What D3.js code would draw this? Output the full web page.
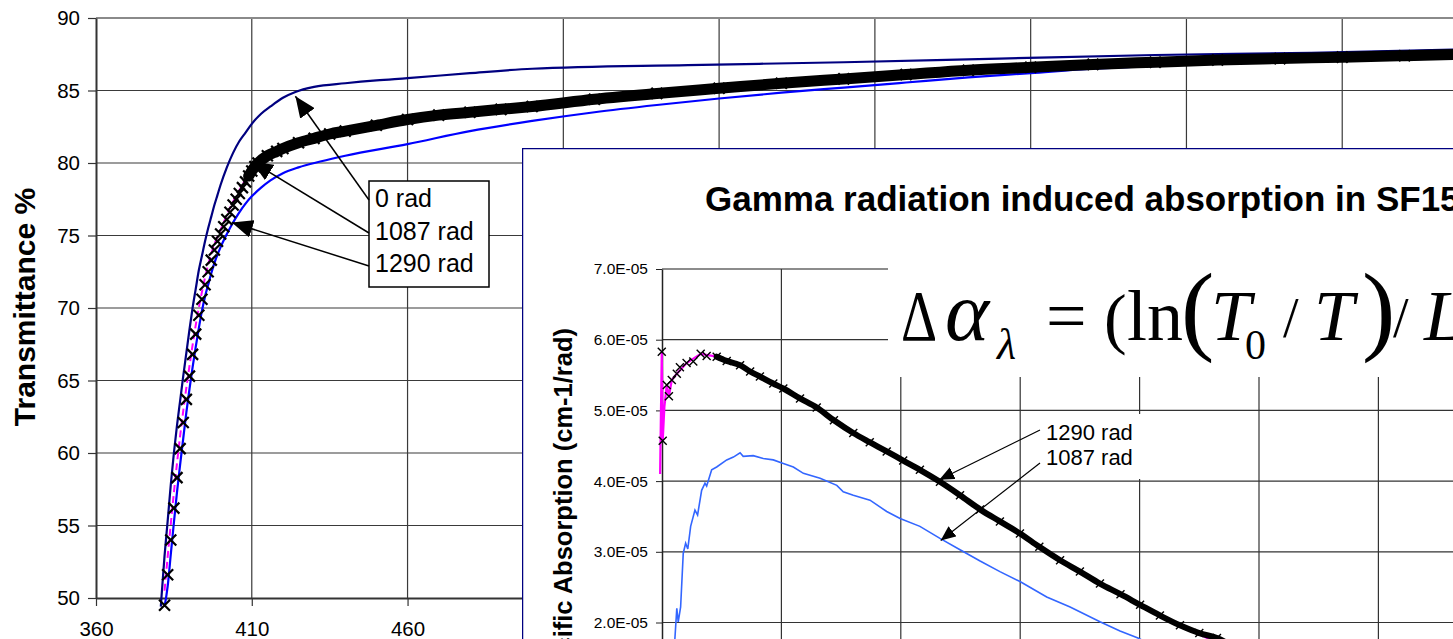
<!DOCTYPE html>
<html>
<head>
<meta charset="utf-8">
<script src="https://cdn.jsdelivr.net/npm/d3@7"></script>
<style>
  body { margin: 0; background: #fff; }
  svg { display: block; }
</style>
</head>
<body>
<svg id="chart" width="1453" height="639"></svg>
<script>
// ---- main chart: transmittance vs wavelength (nm) ----
const mainXTicks = [360, 410, 460, 510, 560, 610, 660, 710, 760, 810];
const mainYTicks = [50, 55, 60, 65, 70, 75, 80, 85, 90];

// 0 rad
const wl0 = [380.8, 381, 382, 383, 384, 385, 386, 387, 388, 389, 390, 391, 392, 393, 394, 395, 396, 397, 398, 399, 400,
  402, 404, 406, 408, 410, 413, 416, 420, 424, 430, 440, 450, 460, 480, 500, 550, 600, 650, 700, 750, 800, 810];
const t0 = [49.4, 50.0, 52.9, 55.3, 57.8, 60.0, 61.9, 63.6, 65.3, 66.9, 68.5, 70.0, 71.3, 72.6, 73.6, 74.6, 75.5, 76.3, 77.1, 77.8, 78.5,
  79.7, 80.7, 81.5, 82.1, 82.7, 83.4, 83.9, 84.5, 84.9, 85.25, 85.5, 85.7, 85.85, 86.2, 86.5, 86.75, 86.95, 87.2, 87.45, 87.6, 87.85, 87.9];

// 1087 rad (x markers)
const wl1087 = [382, 383, 384, 385, 386, 387, 388, 389, 390, 391, 392, 393, 394, 395, 396, 397, 398, 399, 400, 401,
  402, 403, 404, 405, 406, 407, 408, 409, 410, 411, 412,
  415, 418, 420, 425, 430, 435, 440, 450, 460, 470, 480, 490, 500, 520, 540, 560, 580, 600, 620, 640, 660, 680, 700,
  720, 740, 760, 780, 800, 810];
const t1087 = [49.5, 51.6, 54.0, 56.2, 58.3, 60.3, 62.1, 63.7, 65.3, 66.8, 68.2, 69.5, 70.6, 71.6, 72.5, 73.3, 74.0, 74.6, 75.1, 75.6,
  76.1, 76.6, 77.1, 77.5, 77.9, 78.3, 78.7, 79.1, 79.45, 79.75, 80.0,
  80.5, 80.8, 81.0, 81.4, 81.7, 82.0, 82.2, 82.6, 83.0, 83.3, 83.5, 83.7, 83.9, 84.4, 84.8, 85.15, 85.5, 85.8, 86.1, 86.4, 86.6, 86.8, 86.95,
  87.1, 87.2, 87.3, 87.4, 87.5, 87.55];

// 1290 rad
const wl1290 = [382, 383, 384, 385, 386, 387, 388, 389, 390, 391, 392, 393, 394, 395, 396, 397, 398,
  400, 402, 404, 406, 408, 410, 413, 416, 420, 425, 432, 440,
  460, 480, 500, 520, 540, 560, 580, 600, 620, 640, 660, 680, 700, 720, 740, 760, 780, 800, 810];
const t1290 = [49.4, 50.8, 53.0, 55.2, 57.3, 59.2, 61.0, 62.8, 64.4, 65.9, 67.3, 68.6, 69.8, 70.8, 71.6, 72.4, 73.1,
  74.2, 75.1, 75.9, 76.6, 77.2, 77.7, 78.3, 78.8, 79.3, 79.7, 80.1, 80.5,
  81.3, 82.2, 82.9, 83.5, 84.0, 84.45, 84.85, 85.2, 85.55, 85.9, 86.2, 86.5, 86.7, 86.85, 86.95, 87.05, 87.15, 87.25, 87.3];

// dashed magenta series
const wlFit = [382, 384, 386, 388, 390, 392, 394, 396, 398, 400, 403, 406, 410, 415, 420, 430, 450, 500, 600, 700, 800];
const tFit = [50.5, 55.1, 59.3, 62.9, 66.0, 68.8, 71.1, 73.0, 74.4, 75.4, 76.9, 78.1, 79.6, 80.6, 81.1, 81.75, 82.65, 83.95, 85.85, 87.0, 87.55];

const mainLabels = ["0 rad", "1087 rad", "1290 rad"];
const mainArrowTips = [[424, 84.6], [410, 80.1], [403.6, 75.9]];

// ---- inset: specific absorption ----
const insetXTicks = [380, 430, 480, 530, 580, 630, 680, 730];
const insetYTicks = [1e-5, 2e-5, 3e-5, 4e-5, 5e-5, 6e-5, 7e-5];
const insetYLabels = ["1.0E-05", "2.0E-05", "3.0E-05", "4.0E-05", "5.0E-05", "6.0E-05", "7.0E-05"];

const insetWl1087 = [384.5, 385.4, 386.2, 386.8, 387.8, 388.9, 389.9, 390.8, 392.0, 393.8, 394.9, 396.6, 398.0, 398.7, 400.8,
  402.9, 407.1, 409.9, 412.7, 414.0, 418.2, 422.4, 426.6, 430.8, 435.0, 439.2, 446.2, 453.2, 455.9, 460.1,
  467.1, 474.1, 479.7, 488.0, 496.4, 504.8, 513.2, 521.5, 529.9, 541.1, 550.9, 563.4, 571.8, 579.3, 590.0];
const insetAbs1087 = [1.30e-5, 1.77e-5, 2.20e-5, 2.01e-5, 2.22e-5, 2.98e-5, 3.12e-5, 3.04e-5, 3.36e-5, 3.59e-5, 3.52e-5, 3.87e-5, 3.97e-5, 3.93e-5, 4.16e-5,
  4.20e-5, 4.30e-5, 4.34e-5, 4.40e-5, 4.35e-5, 4.36e-5, 4.32e-5, 4.30e-5, 4.25e-5, 4.20e-5, 4.11e-5, 4.04e-5, 3.94e-5, 3.85e-5, 3.80e-5,
  3.73e-5, 3.57e-5, 3.47e-5, 3.36e-5, 3.19e-5, 3.03e-5, 2.87e-5, 2.72e-5, 2.58e-5, 2.36e-5, 2.22e-5, 2.01e-5, 1.88e-5, 1.78e-5, 1.60e-5];

const insetWl1290 = [379.9, 380.3, 382.0, 382.9, 384.1, 386.2, 387.5, 390.3, 393.1, 396.2, 398.7, 402.9, 407.1, 412.7, 416.9,
  421.0, 426.6, 430.8, 437.8, 444.8, 452.0, 460.1, 467.0, 474.1, 481.0, 488.0, 496.4, 504.8, 513.2, 521.5,
  529.9, 538.0, 546.7, 555.0, 563.4, 572.0, 580.2, 588.5, 596.9, 605.0, 612.4, 626.0];
const insetAbs1290 = [5.83e-5, 4.57e-5, 5.36e-5, 5.20e-5, 5.43e-5, 5.52e-5, 5.61e-5, 5.67e-5, 5.69e-5, 5.80e-5, 5.77e-5, 5.76e-5, 5.70e-5, 5.64e-5, 5.55e-5,
  5.48e-5, 5.38e-5, 5.31e-5, 5.17e-5, 5.04e-5, 4.86e-5, 4.68e-5, 4.55e-5, 4.42e-5, 4.29e-5, 4.16e-5, 3.99e-5, 3.80e-5, 3.60e-5, 3.43e-5,
  3.26e-5, 3.07e-5, 2.88e-5, 2.72e-5, 2.55e-5, 2.40e-5, 2.25e-5, 2.10e-5, 1.96e-5, 1.85e-5, 1.78e-5, 1.50e-5];

const insetWlFit = [379.2, 379.9, 380.3, 381.0, 382.0, 382.9, 384.1, 386.2, 390.3, 396.2, 402.9, 412.7, 426.6, 444.8, 460.1,
  481.0, 504.8, 529.9, 563.4, 596.9, 626.0];
const insetAbsFit = [4.10e-5, 5.83e-5, 4.57e-5, 5.05e-5, 5.36e-5, 5.20e-5, 5.43e-5, 5.52e-5, 5.67e-5, 5.80e-5, 5.76e-5, 5.64e-5, 5.38e-5, 5.04e-5, 4.68e-5,
  4.29e-5, 3.80e-5, 3.26e-5, 2.55e-5, 1.96e-5, 1.50e-5];

const insetLabels = ["1290 rad", "1087 rad"];
const insetArrowTips = [[496.1, 4.02e-5], [496.7, 3.16e-5]];

const SANS = "Arial, 'Liberation Sans', sans-serif";
const SERIF = "'Times New Roman', 'Liberation Serif', serif";

const zip = (a, b) => a.map((v, i) => [v, b[i]]);

const svg = d3.select("#chart");
const defs = svg.append("defs");

function arrowMarker(id, len, half) {
    defs.append("marker").attr("id", id)
        .attr("viewBox", `${-len} ${-half} ${len} ${2 * half}`)
        .attr("refX", 0).attr("refY", 0)
        .attr("markerWidth", len).attr("markerHeight", 2 * half)
        .attr("markerUnits", "userSpaceOnUse")
        .attr("orient", "auto")
        .append("path")
        .attr("d", `M0,0L${-len},${-half}L${-len},${half}Z`)
        .attr("fill", "#000");
}
arrowMarker("bigArrow", 21, 9);
arrowMarker("smallArrow", 15, 6.5);

// draws an "x" marker at every data point
function crosses(g, data, sx, sy, s, sw) {
    g.append("g").selectAll("path").data(data).join("path")
        .attr("d", d => {
            const px = sx(d[0]), py = sy(d[1]);
            return `M${px - s},${py - s}L${px + s},${py + s}M${px - s},${py + s}L${px + s},${py - s}`;
        })
        .attr("stroke", "#000").attr("stroke-width", sw).attr("fill", "none");
}

// ================= main chart =================
const x = d3.scaleLinear().domain([360, 810]).range([96, 1498]);
const y = d3.scaleLinear().domain([50, 90]).range([598, 18]);

const main = svg.append("g");

// gridlines
main.append("g").selectAll("line").data(mainYTicks.filter(v => v > 50 && v < 90)).join("line")
    .attr("x1", x(360)).attr("x2", x(810))
    .attr("y1", d => y(d)).attr("y2", d => y(d))
    .attr("stroke", "#3a3a3a").attr("stroke-width", 1.2);
main.append("g").selectAll("line").data(mainXTicks.filter(v => v > 360)).join("line")
    .attr("x1", d => x(d)).attr("x2", d => x(d))
    .attr("y1", y(90)).attr("y2", y(50))
    .attr("stroke", "#3a3a3a").attr("stroke-width", 1.2);

// top border
main.append("line")
    .attr("x1", x(360)).attr("x2", x(810)).attr("y1", y(90)).attr("y2", y(90))
    .attr("stroke", "#8a8a8a").attr("stroke-width", 2);

// axes
const yAxis = main.append("g")
    .attr("transform", `translate(${x(360)},0)`)
    .call(d3.axisLeft(y).tickValues(mainYTicks).tickSize(8).tickPadding(8).tickSizeOuter(0));
const xAxis = main.append("g")
    .attr("transform", `translate(0,${y(50)})`)
    .call(d3.axisBottom(x).tickValues(mainXTicks).tickSize(8).tickPadding(15).tickSizeOuter(0));
[yAxis, xAxis].forEach(a => {
    a.attr("font-family", SANS).attr("font-size", 20.5);
    a.select(".domain").attr("stroke", "#333").attr("stroke-width", 2);
    a.selectAll(".tick line").attr("stroke", "#333").attr("stroke-width", 1.2);
    a.selectAll(".tick text").attr("fill", "#000");
});

main.append("text")
    .text("Transmittance %")
    .attr("transform", "translate(35,307) rotate(-90)")
    .attr("text-anchor", "middle")
    .attr("font-family", SANS).attr("font-size", 30).attr("font-weight", "bold");

// series
const mainLine = d3.line().x(d => x(d[0])).y(d => y(d[1])).curve(d3.curveMonotoneX);
const s0 = zip(wl0, t0), s1087 = zip(wl1087, t1087), s1290 = zip(wl1290, t1290), sFit = zip(wlFit, tFit);

main.append("path").datum(s0).attr("d", mainLine)
    .attr("fill", "none").attr("stroke", "#000080").attr("stroke-width", 2.2);
main.append("path").datum(s1290).attr("d", mainLine)
    .attr("fill", "none").attr("stroke", "#0000ff").attr("stroke-width", 2.2);
main.append("path").datum(sFit).attr("d", mainLine)
    .attr("fill", "none").attr("stroke", "#ff00ff").attr("stroke-width", 2)
    .attr("stroke-dasharray", "7,4");
// markers are so dense past ~410 nm that they merge into a solid band
main.append("path").datum(s1087.filter(d => d[0] >= 409)).attr("d", mainLine)
    .attr("fill", "none").attr("stroke", "#000").attr("stroke-width", 11)
    .attr("stroke-linecap", "round");
crosses(main, s1087, x, y, 5.5, 2.2);

// annotation box
main.append("rect")
    .attr("x", 369).attr("y", 181).attr("width", 120).attr("height", 106)
    .attr("fill", "#fff").attr("stroke", "#000").attr("stroke-width", 1.5);
main.append("g").selectAll("text").data(mainLabels).join("text")
    .text(d => d)
    .attr("x", 375).attr("y", (d, i) => 207 + i * 32.5)
    .attr("font-family", SANS).attr("font-size", 25);
main.append("g").selectAll("line").data(mainArrowTips).join("line")
    .attr("x1", 369).attr("y1", (d, i) => 200 + i * 33)
    .attr("x2", d => x(d[0])).attr("y2", d => y(d[1]))
    .attr("stroke", "#000").attr("stroke-width", 1.5)
    .attr("marker-end", "url(#bigArrow)");

// ================= inset =================
defs.append("clipPath").attr("id", "insetClip")
    .append("rect").attr("x", 522).attr("y", 148).attr("width", 1000).attr("height", 600);

const inset = svg.append("g").attr("clip-path", "url(#insetClip)");
inset.append("rect")
    .attr("x", 522).attr("y", 148).attr("width", 1000).attr("height", 600)
    .attr("fill", "#fff").attr("stroke", "#000080").attr("stroke-width", 2.5);

const ix = d3.scaleLinear().domain([380, 730]).range([662, 662 + 350 * 2.388]);
const iy = d3.scaleLinear().domain([0, 7e-5]).range([269 + 7 * 70.7, 269]);

inset.append("g").selectAll("line").data(insetYTicks.slice(0, -1)).join("line")
    .attr("x1", ix(380)).attr("x2", ix(730))
    .attr("y1", d => iy(d)).attr("y2", d => iy(d))
    .attr("stroke", "#333").attr("stroke-width", 1.2);
inset.append("line")
    .attr("x1", ix(380)).attr("x2", ix(730)).attr("y1", iy(7e-5)).attr("y2", iy(7e-5))
    .attr("stroke", "#666").attr("stroke-width", 1.5);
inset.append("g").selectAll("line").data(insetXTicks.slice(1)).join("line")
    .attr("x1", d => ix(d)).attr("x2", d => ix(d))
    .attr("y1", iy(7e-5)).attr("y2", iy(0))
    .attr("stroke", "#333").attr("stroke-width", 1.2);

const iyAxis = inset.append("g")
    .attr("transform", `translate(${ix(380)},0)`)
    .call(d3.axisLeft(iy).tickValues(insetYTicks).tickFormat((d, i) => insetYLabels[i])
        .tickSize(6).tickPadding(8).tickSizeOuter(0));
iyAxis.attr("font-family", SANS).attr("font-size", 15.5);
iyAxis.select(".domain").attr("stroke", "#222").attr("stroke-width", 1.5);
iyAxis.selectAll(".tick line").attr("stroke", "#222");
iyAxis.selectAll(".tick text").attr("fill", "#000");

inset.append("text")
    .text("Specific Absorption (cm-1/rad)")
    .attr("transform", "translate(572,328) rotate(-90)")
    .attr("text-anchor", "end")
    .attr("font-family", SANS).attr("font-size", 25.5).attr("font-weight", "bold");

inset.append("text")
    .text("Gamma radiation induced absorption in SF15")
    .attr("x", 705).attr("y", 211)
    .attr("font-family", SANS).attr("font-size", 35).attr("font-weight", "bold");

// formula, placed on a white panel
inset.append("rect").attr("x", 888).attr("y", 240).attr("width", 600).attr("height", 137).attr("fill", "#fff");
const formula = [
    { t: "\u0394", x: 901, y: 340, s: 72, it: false, sx: 0.78 },
    { t: "\u03b1", x: 945, y: 340, s: 84, it: true },
    { t: "\u03bb", x: 997, y: 359, s: 44, it: true },
    { t: "=", x: 1046, y: 340, s: 72 },
    { t: "(", x: 1104, y: 341, s: 68 },
    { t: "ln", x: 1127, y: 340, s: 72 },
    { t: "(", x: 1181, y: 342, s: 100 },
    { t: "T", x: 1211, y: 340, s: 72, it: true },
    { t: "0", x: 1245, y: 359, s: 42 },
    { t: "/", x: 1283, y: 337, s: 56 },
    { t: "T", x: 1314, y: 340, s: 72, it: true },
    { t: ")", x: 1362, y: 342, s: 100 },
    { t: "/", x: 1393, y: 337, s: 56 },
    { t: "L", x: 1424, y: 340, s: 72, it: true }
];
inset.append("g").selectAll("text").data(formula).join("text")
    .text(d => d.t)
    .attr("transform", d => `translate(${d.x},${d.y}) scale(${d.sx || 1},1)`)
    .attr("font-family", SERIF)
    .attr("font-size", d => d.s)
    .attr("font-style", d => d.it ? "italic" : "normal");

// label panel
inset.append("rect").attr("x", 1040).attr("y", 414).attr("width", 101).attr("height", 65).attr("fill", "#fff");
inset.append("g").selectAll("text").data(insetLabels).join("text")
    .text(d => d)
    .attr("x", 1046).attr("y", (d, i) => 440 + i * 25)
    .attr("font-family", SANS).attr("font-size", 22);

// inset series
const straight = d3.line().x(d => ix(d[0])).y(d => iy(d[1]));
const smooth = d3.line().x(d => ix(d[0])).y(d => iy(d[1])).curve(d3.curveMonotoneX);
const i1087 = zip(insetWl1087, insetAbs1087);
const i1290 = zip(insetWl1290, insetAbs1290);
const iFit = zip(insetWlFit, insetAbsFit);

inset.append("path").datum(i1087).attr("d", straight)
    .attr("fill", "none").attr("stroke", "#3366ff").attr("stroke-width", 1.6);
inset.append("path").datum(iFit).attr("d", straight)
    .attr("fill", "none").attr("stroke", "#ff00ff").attr("stroke-width", 2.2);
inset.append("path").datum(i1290.filter(d => d[0] >= 400)).attr("d", smooth)
    .attr("fill", "none").attr("stroke", "#000").attr("stroke-width", 6)
    .attr("stroke-linecap", "round");
crosses(inset, i1290, ix, iy, 4, 1.4);

inset.append("g").selectAll("line").data(insetArrowTips).join("line")
    .attr("x1", 1040).attr("y1", (d, i) => 430 + i * 33)
    .attr("x2", d => ix(d[0])).attr("y2", d => iy(d[1]))
    .attr("stroke", "#000").attr("stroke-width", 1.2)
    .attr("marker-end", "url(#smallArrow)");
</script>
</body>
</html>
